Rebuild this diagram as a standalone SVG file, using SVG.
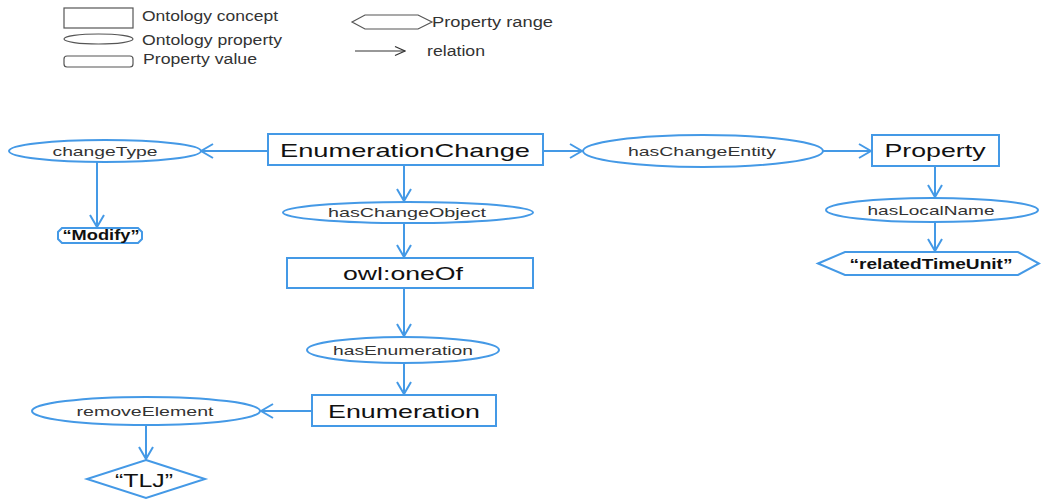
<svg xmlns="http://www.w3.org/2000/svg" width="1041" height="500" viewBox="0 0 1041 500">
<defs>
<marker id="ah" viewBox="0 0 14 16" refX="13" refY="8" markerWidth="14" markerHeight="16" markerUnits="userSpaceOnUse" orient="auto">
<path d="M1,1 L13,8 L1,15" fill="none" stroke="#4499e6" stroke-width="2"/>
</marker>
<marker id="lah" viewBox="0 0 12 12" refX="11" refY="6" markerWidth="12" markerHeight="12" markerUnits="userSpaceOnUse" orient="auto">
<path d="M1,1.5 L11,6 L1,10.5" fill="none" stroke="#333" stroke-width="1.2"/>
</marker>
<style>
.n{fill:#fff;stroke:#4499e6;stroke-width:2}
.l{fill:#fff;stroke:#555;stroke-width:1.2}
.e{stroke:#4499e6;stroke-width:2;fill:none;marker-end:url(#ah)}
.tc{font-family:"Liberation Sans",Arial,sans-serif;font-size:19px;fill:#111;text-anchor:middle}
.tp{font-family:"Liberation Sans",Arial,sans-serif;font-size:13.5px;fill:#333;text-anchor:middle}
.tv{font-family:"Liberation Sans",Arial,sans-serif;font-size:15px;font-weight:bold;fill:#111;text-anchor:middle}
.tl{font-family:"Liberation Sans",Arial,sans-serif;font-size:14px;fill:#333}
</style>
</defs>
<rect width="1041" height="500" fill="#fff"/>
<g id="legend">
<rect class="l" x="64" y="8" width="69" height="20"/>
<text class="tl" x="142" y="21" textLength="136" lengthAdjust="spacingAndGlyphs">Ontology concept</text>
<ellipse class="l" cx="98.5" cy="39" rx="34.5" ry="5"/>
<text class="tl" x="142" y="45" textLength="140" lengthAdjust="spacingAndGlyphs">Ontology property</text>
<rect class="l" x="64" y="56" width="69" height="11" rx="3"/>
<text class="tl" x="143" y="64" textLength="114" lengthAdjust="spacingAndGlyphs">Property value</text>
<polygon class="l" points="352,22 365,15 418,15 432,22 418,29 365,29"/>
<text class="tl" x="432" y="27" textLength="121" lengthAdjust="spacingAndGlyphs">Property range</text>
<line x1="355" y1="51" x2="405" y2="51" stroke="#333" stroke-width="1.2" marker-end="url(#lah)"/>
<text class="tl" x="427" y="56" textLength="58" lengthAdjust="spacingAndGlyphs">relation</text>
</g>
<g id="connectors">
<line class="e" x1="268" y1="151" x2="201" y2="151"/>
<line class="e" x1="97" y1="162" x2="97" y2="227"/>
<line class="e" x1="404" y1="165" x2="404" y2="201"/>
<line class="e" x1="404" y1="223" x2="404" y2="257"/>
<line class="e" x1="404" y1="288" x2="404" y2="336"/>
<line class="e" x1="404" y1="363" x2="404" y2="394"/>
<line class="e" x1="312" y1="411" x2="261" y2="411"/>
<line class="e" x1="146" y1="425" x2="146" y2="459"/>
<line class="e" x1="543" y1="151" x2="582" y2="151"/>
<line class="e" x1="823" y1="151" x2="871" y2="151"/>
<line class="e" x1="935" y1="166" x2="935" y2="197"/>
<line class="e" x1="935" y1="222" x2="935" y2="251"/>
</g>
<g id="EnumerationChange">
<rect class="n" x="268" y="134" width="275" height="31"/>
<text class="tc" x="405" y="157" textLength="250" lengthAdjust="spacingAndGlyphs">EnumerationChange</text>
</g>
<g id="changeType">
<ellipse class="n" cx="105" cy="151" rx="96" ry="11"/>
<text class="tp" x="105" y="156" textLength="105" lengthAdjust="spacingAndGlyphs">changeType</text>
</g>
<g id="Modify">
<polygon class="n" points="62,228 138,228 142,232 142,239 138,243 62,243 58,239 58,232"/>
<text class="tv" x="101" y="240" textLength="77" lengthAdjust="spacingAndGlyphs">“Modify”</text>
</g>
<g id="hasChangeObject">
<ellipse class="n" cx="408" cy="212.5" rx="125" ry="10.5"/>
<text class="tp" x="407" y="217" textLength="158" lengthAdjust="spacingAndGlyphs">hasChangeObject</text>
</g>
<g id="owlOneOf">
<rect class="n" x="287" y="258" width="246" height="30"/>
<text class="tc" x="403" y="280" textLength="120" lengthAdjust="spacingAndGlyphs">owl:oneOf</text>
</g>
<g id="hasEnumeration">
<ellipse class="n" cx="403" cy="350" rx="96" ry="13"/>
<text class="tp" x="403" y="355" textLength="140" lengthAdjust="spacingAndGlyphs">hasEnumeration</text>
</g>
<g id="Enumeration">
<rect class="n" x="312" y="395" width="184" height="31"/>
<text class="tc" x="404" y="418" textLength="152" lengthAdjust="spacingAndGlyphs">Enumeration</text>
</g>
<g id="removeElement">
<ellipse class="n" cx="146" cy="411" rx="114" ry="14"/>
<text class="tp" x="145" y="416" textLength="137" lengthAdjust="spacingAndGlyphs">removeElement</text>
</g>
<g id="TLJ">
<polygon class="n" points="146,460 205,479 146,498 87,479"/>
<text class="tc" x="144" y="487" font-size="20" textLength="58" lengthAdjust="spacingAndGlyphs">“TLJ”</text>
</g>
<g id="hasChangeEntity">
<ellipse class="n" cx="703" cy="151" rx="120" ry="16"/>
<text class="tp" x="702" y="156" textLength="148" lengthAdjust="spacingAndGlyphs">hasChangeEntity</text>
</g>
<g id="Property">
<rect class="n" x="872" y="135" width="127" height="31"/>
<text class="tc" x="935" y="157" textLength="101" lengthAdjust="spacingAndGlyphs">Property</text>
</g>
<g id="hasLocalName">
<ellipse class="n" cx="932" cy="210" rx="106" ry="12"/>
<text class="tp" x="931" y="215" textLength="127" lengthAdjust="spacingAndGlyphs">hasLocalName</text>
</g>
<g id="relatedTimeUnit">
<polygon class="n" points="818,263.5 845,252 1018,252 1039,263.5 1018,275 845,275"/>
<text class="tv" x="931" y="269" textLength="163" lengthAdjust="spacingAndGlyphs">“relatedTimeUnit”</text>
</g>
</svg>
